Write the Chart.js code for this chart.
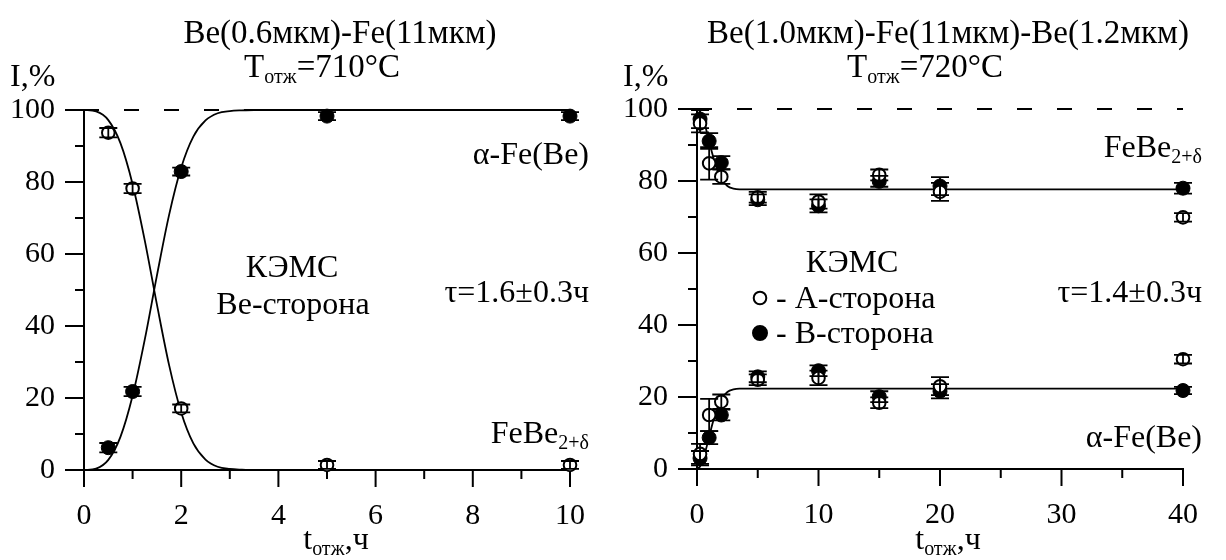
<!DOCTYPE html>
<html><head><meta charset="utf-8">
<script src="https://cdn.jsdelivr.net/npm/chart.js@4.4.0/dist/chart.umd.min.js"></script>
<style>
html,body{margin:0;padding:0;background:#fff;}
#wrap{position:relative;width:1226px;height:560px;background:#fff;}
.c{position:absolute;top:0;width:613px;height:560px;}
</style></head><body>
<div id="wrap">
<div class="c" style="left:0"><canvas id="cl"></canvas></div>
<div class="c" style="left:613px"><canvas id="cr"></canvas></div>
</div>
<script>
// ---------- data ----------
const leftTimes      = [0.5, 1, 2, 5, 10];
const leftFeBe       = [93.7, 78.2, 17.1, 1.4, 1.4];
const leftFeBeErr    = [1.3, 1.3, 1.1, 1.1, 1.1];
const leftAlphaFe    = [6.2, 21.8, 82.9, 98.3, 98.3];
const leftAlphaFeErr = [1.3, 1.3, 1.1, 1.1, 1.1];

const leftFitTimes   = [0, 0.25, 0.5, 0.75, 1.0, 1.25, 1.5, 1.75, 2.0, 2.25, 2.5, 2.75, 3.0, 3.25, 3.5, 4, 5, 10];
const leftFitFeBe    = [100, 99.6, 97.2, 90.8, 79.4, 63.8, 46.0, 29.2, 16.0, 7.4, 2.9, 0.9, 0.3, 0.1, 0, 0, 0, 0];
const leftFitAlphaFe = [0, 0.4, 2.8, 9.2, 20.6, 36.2, 54.0, 70.8, 84.0, 92.6, 97.1, 99.1, 99.7, 99.9, 100, 100, 100, 100];

const rightTimes       = [0.25, 1, 2, 5, 10, 15, 20, 40];
const rightFeBeA       = [96.0, 84.9, 81.2, 75.5, 74.3, 81.7, 77.0, 69.9];
const rightFeBeAErr    = [2.5, 4.5, 2.0, 1.5, 2.0, 1.5, 2.5, 1.2];
const rightFeBeB       = [97.2, 91.1, 85.1, 74.8, 73.1, 79.9, 78.6, 78.0];
const rightFeBeBErr    = [2.5, 2.2, 1.8, 1.5, 1.8, 1.5, 2.5, 1.5];
const rightAlphaFeA    = [4.2, 15.0, 18.7, 24.8, 25.3, 18.4, 23.0, 30.5];
const rightAlphaFeAErr = [2.8, 4.5, 2.0, 1.5, 2.0, 1.5, 2.5, 1.2];
const rightAlphaFeB    = [3.0, 8.7, 15.0, 25.6, 27.3, 20.1, 21.6, 21.8];
const rightAlphaFeBErr = [2.0, 1.8, 1.5, 1.5, 1.5, 1.5, 2.0, 1.0];

const rightFitTimes    = [0, 0.25, 0.5, 0.75, 1.0, 1.25, 1.5, 1.75, 2.0, 2.5, 3.0, 3.5, 4, 5, 10, 20, 40];
const rightFitFeBe     = [100, 99.3, 97.3, 94.4, 91.1, 87.7, 84.8, 82.4, 80.6, 78.6, 77.9, 77.7, 77.7, 77.7, 77.7, 77.7, 77.7];
const rightFitAlphaFe  = [0, 0.7, 2.7, 5.6, 8.9, 12.3, 15.2, 17.6, 19.4, 21.4, 22.1, 22.3, 22.3, 22.3, 22.3, 22.3, 22.3];

const yMajorTicks  = [0, 20, 40, 60, 80, 100];
const yMinorTicks  = [10, 30, 50, 70, 90];
const leftXMajor   = [0, 2, 4, 6, 8, 10];
const leftXMinor   = [1, 3, 5, 7, 9];
const rightXMajor  = [0, 10, 20, 30, 40];
const rightXMinor  = [5, 15, 25, 35];
const referenceLevel = [100, 100];

// ---------- helpers ----------
const FONT = '"Liberation Serif", "Times New Roman", serif';
Chart.defaults.font.family = FONT;
Chart.defaults.color = '#000';

function pts(xs, ys) { return xs.map((x, i) => ({x: x, y: ys[i]})); }
function markDS(xs, ys, errs, open, order) {
  return {data: pts(xs, ys), errs: errs, showLine: false,
    pointRadius: open ? 6.3 : 7, pointHoverRadius: open ? 6.3 : 7,
    pointBorderWidth: open ? 2 : 1, pointBackgroundColor: open ? '#fff' : '#000',
    pointBorderColor: '#000', order: order, clip: false};
}
function lineDS(xs, ys, order, dash) {
  return {data: pts(xs, ys), showLine: true, pointRadius: 0, pointHoverRadius: 0,
    borderColor: '#000', borderWidth: 1.8, borderDash: dash || [],
    cubicInterpolationMode: 'monotone', order: order, clip: false, fill: false};
}
function drawRich(ctx, parts, x, y, align) {
  let w = 0;
  parts.forEach(p => { ctx.font = p[1] + 'px ' + FONT; w += ctx.measureText(p[0]).width; });
  let sx = align === 'center' ? x - w / 2 : (align === 'right' ? x - w : x);
  ctx.textAlign = 'left'; ctx.textBaseline = 'alphabetic'; ctx.fillStyle = '#000';
  parts.forEach(p => { ctx.font = p[1] + 'px ' + FONT; ctx.fillText(p[0], sx, y + p[2]); sx += ctx.measureText(p[0]).width; });
}

function makePlugin(cfg) {
  return {
    id: 'custom_' + cfg.name,
    beforeDatasetsDraw(chart) {
      const ctx = chart.ctx, x = chart.scales.x, y = chart.scales.y;
      ctx.save(); ctx.strokeStyle = '#000'; ctx.lineWidth = 2;
      const x0 = x.getPixelForValue(x.min), x1 = x.getPixelForValue(x.max);
      const y0 = y.getPixelForValue(0), y1 = y.getPixelForValue(100);
      ctx.beginPath();
      ctx.moveTo(x0, y1); ctx.lineTo(x0, y0);
      ctx.moveTo(x0 - 19, y0); ctx.lineTo(x1 + 1, y0);
      yMajorTicks.forEach(v => { const p = y.getPixelForValue(v); ctx.moveTo(x0 - 19, p); ctx.lineTo(x0, p); });
      yMinorTicks.forEach(v => { const p = y.getPixelForValue(v); ctx.moveTo(x0 - 9, p); ctx.lineTo(x0, p); });
      cfg.xMajor.forEach(v => { const p = x.getPixelForValue(v); ctx.moveTo(p, y0); ctx.lineTo(p, y0 + 17); });
      cfg.xMinor.forEach(v => { const p = x.getPixelForValue(v); ctx.moveTo(p, y0); ctx.lineTo(p, y0 + 9); });
      ctx.stroke(); ctx.restore();
    },
    afterDatasetsDraw(chart) {
      const ctx = chart.ctx, y = chart.scales.y;
      ctx.save(); ctx.strokeStyle = '#000'; ctx.lineWidth = 1.8;
      chart.data.datasets.forEach((ds, di) => {
        if (!ds.errs) return;
        const meta = chart.getDatasetMeta(di);
        meta.data.forEach((el, i) => {
          const v = ds.data[i].y, e = ds.errs[i];
          const yt = y.getPixelForValue(v + e), yb = y.getPixelForValue(v - e);
          ctx.beginPath();
          ctx.moveTo(el.x, yt); ctx.lineTo(el.x, yb);
          ctx.moveTo(el.x - 9, yt); ctx.lineTo(el.x + 9, yt);
          ctx.moveTo(el.x - 9, yb); ctx.lineTo(el.x + 9, yb);
          ctx.stroke();
        });
      });
      ctx.restore();
    },
    afterDraw(chart) {
      const ctx = chart.ctx;
      ctx.save();
      cfg.texts.forEach(t => drawRich(ctx, t.parts, t.x, t.y, t.align));
      if (cfg.legend) {
        cfg.legend.forEach(l => {
          ctx.beginPath(); ctx.arc(l.x, l.y, l.open ? 6.3 : 7, 0, Math.PI * 2);
          ctx.fillStyle = l.open ? '#fff' : '#000'; ctx.fill();
          ctx.lineWidth = 2; ctx.strokeStyle = '#000'; ctx.stroke();
        });
      }
      ctx.restore();
    }
  };
}

function makeChart(id, cfg) {
  return new Chart(document.getElementById(id), {
    type: 'scatter',
    data: {datasets: cfg.datasets},
    options: {
      responsive: true, maintainAspectRatio: false, animation: false,
      events: [],
      layout: {padding: {top: cfg.top, right: cfg.right, left: 0, bottom: 0}},
      plugins: {legend: {display: false}, tooltip: {enabled: false}},
      scales: {
        x: {type: 'linear', min: cfg.xMin, max: cfg.xMax,
            grid: {display: false, drawTicks: false}, border: {display: false},
            ticks: {stepSize: cfg.xStep, padding: 28, font: {size: 30, family: FONT}, color: '#000'},
            afterFit: s => { s.height = cfg.bottomH; }},
        y: {type: 'linear', min: 0, max: 100,
            grid: {display: false, drawTicks: false}, border: {display: false},
            ticks: {stepSize: 20, padding: 29, font: {size: 30, family: FONT}, color: '#000'},
            afterFit: s => { s.width = 84; }}
      }
    },
    plugins: [makePlugin(cfg)]
  });
}

// ---------- left chart ----------
makeChart('cl', {
  name: 'left', top: 110, right: 24, bottomH: 90, xMin: 0, xMax: 10, xStep: 2,
  xMajor: leftXMajor, xMinor: leftXMinor,
  datasets: [
    markDS(leftTimes, leftFeBe, leftFeBeErr, true, 0),
    markDS(leftTimes, leftAlphaFe, leftAlphaFeErr, false, 1),
    lineDS(leftFitTimes, leftFitFeBe, 2),
    lineDS(leftFitTimes, leftFitAlphaFe, 2),
    lineDS([0, 10], referenceLevel, 3, [15, 25])
  ],
  texts: [
    {parts: [['Be(0.6мкм)-Fe(11мкм)', 33, 0]], x: 340, y: 43, align: 'center'},
    {parts: [['T', 33, 0], ['отж', 20, 6], ['=710°C', 33, 0]], x: 322, y: 77, align: 'center'},
    {parts: [['I,%', 32, 0]], x: 10, y: 86, align: 'left'},
    {parts: [['α-Fe(Be)', 32, 0]], x: 589, y: 164, align: 'right'},
    {parts: [['КЭМС', 32, 0]], x: 292, y: 277, align: 'center'},
    {parts: [['Be-сторона', 32, 0]], x: 293, y: 314, align: 'center'},
    {parts: [['τ=1.6±0.3ч', 32, 0]], x: 589, y: 302, align: 'right'},
    {parts: [['FeBe', 32, 0], ['2+δ', 20, 6]], x: 589, y: 443, align: 'right'},
    {parts: [['t', 32, 0], ['отж', 20, 6], [',ч', 32, 0]], x: 336, y: 549, align: 'center'}
  ]
});

// ---------- right chart ----------
makeChart('cr', {
  name: 'right', top: 109, right: 26, bottomH: 91, xMin: 0, xMax: 40, xStep: 10,
  xMajor: rightXMajor, xMinor: rightXMinor,
  datasets: [
    markDS(rightTimes, rightFeBeA, rightFeBeAErr, true, 0),
    markDS(rightTimes, rightAlphaFeA, rightAlphaFeAErr, true, 0),
    markDS(rightTimes, rightFeBeB, rightFeBeBErr, false, 1),
    markDS(rightTimes, rightAlphaFeB, rightAlphaFeBErr, false, 1),
    lineDS(rightFitTimes, rightFitFeBe, 2),
    lineDS(rightFitTimes, rightFitAlphaFe, 2),
    lineDS([0, 40], referenceLevel, 3, [15, 25])
  ],
  texts: [
    {parts: [['Be(1.0мкм)-Fe(11мкм)-Be(1.2мкм)', 33, 0]], x: 335, y: 43, align: 'center'},
    {parts: [['T', 33, 0], ['отж', 20, 6], ['=720°C', 33, 0]], x: 312, y: 77, align: 'center'},
    {parts: [['I,%', 32, 0]], x: 10, y: 86, align: 'left'},
    {parts: [['FeBe', 32, 0], ['2+δ', 20, 6]], x: 589, y: 157, align: 'right'},
    {parts: [['τ=1.4±0.3ч', 32, 0]], x: 589, y: 302, align: 'right'},
    {parts: [['КЭМС', 32, 0]], x: 239, y: 272, align: 'center'},
    {parts: [['- A-сторона', 32, 0]], x: 163, y: 308, align: 'left'},
    {parts: [['- B-сторона', 32, 0]], x: 163, y: 343, align: 'left'},
    {parts: [['α-Fe(Be)', 32, 0]], x: 589, y: 447, align: 'right'},
    {parts: [['t', 32, 0], ['отж', 20, 6], [',ч', 32, 0]], x: 335, y: 549, align: 'center'}
  ],
  legend: [{x: 147, y: 298, open: true}, {x: 147, y: 333, open: false}]
});
</script>
</body></html>
